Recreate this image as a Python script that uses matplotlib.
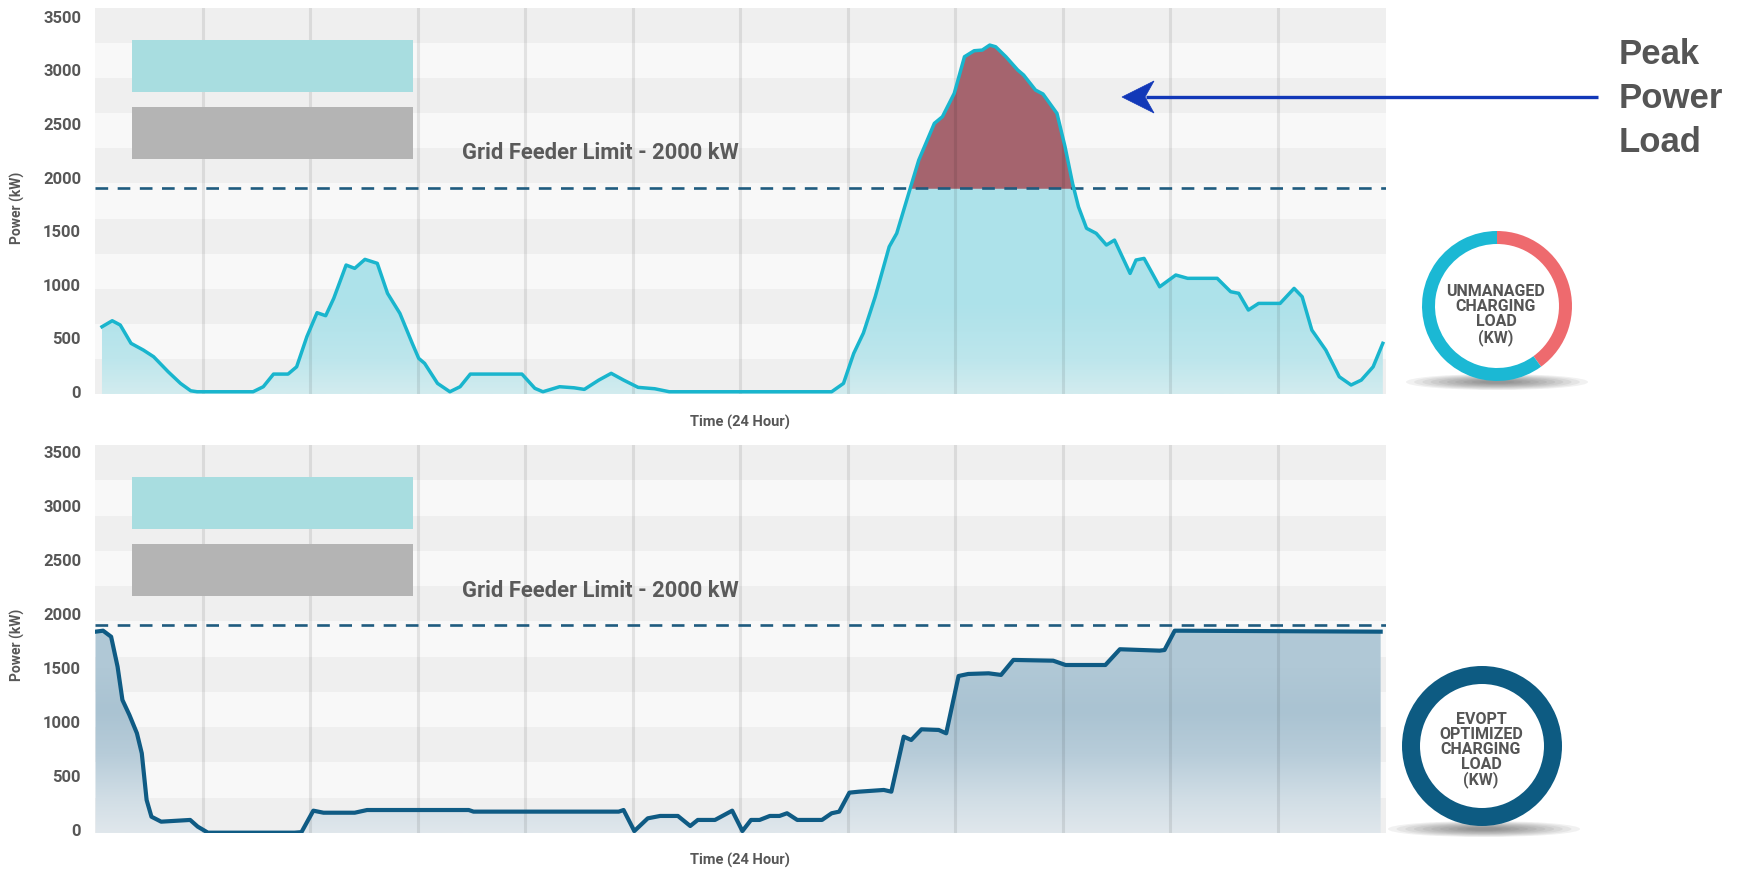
import numpy as np
import matplotlib
matplotlib.use('Agg')
import matplotlib.pyplot as plt
from matplotlib.patches import Rectangle, Wedge, Ellipse, Polygon
from matplotlib.colors import LinearSegmentedColormap

plt.rcParams['font.family'] = ['Roboto', 'DejaVu Sans']

# ---------------- data ----------------
top_hours = [0.13, 0.32, 0.47, 0.67, 0.9, 1.09, 1.36, 1.59, 1.78, 1.9,
             2.94, 3.13, 3.32, 3.59, 3.75, 3.94, 4.13, 4.29, 4.44, 4.67,
             4.83, 5.02, 5.25, 5.44, 5.67, 5.9, 6.02, 6.13, 6.37, 6.6,
             6.79, 6.98, 7.94, 8.18, 8.33, 8.64, 8.91, 9.1, 9.37, 9.6,
             9.83, 10.1, 10.41, 10.68, 13.70, 13.92, 14.11, 14.29, 14.51, 14.77,
             14.91, 15.17, 15.32, 15.61, 15.76, 15.98, 16.17, 16.35, 16.5, 16.64,
             16.75, 16.94, 17.16, 17.27, 17.49, 17.63, 17.89, 18.04, 18.18, 18.29,
             18.44, 18.62, 18.81, 18.96, 19.25, 19.36, 19.51, 19.8, 20.1, 20.32,
             20.87, 21.12, 21.27, 21.45, 21.64, 22.04, 22.3, 22.45, 22.63, 22.89,
             23.14, 23.36, 23.55, 23.77, 23.95]
top_kw = [607, 663, 623, 452, 389, 327, 187, 78, 9, 0,
          0, 47, 165, 165, 233, 514, 738, 710, 872, 1183,
          1152, 1236, 1199, 919, 732, 452, 312, 265, 78, 0,
          47, 165, 165, 32, 0, 47, 37, 22, 109, 172,
          109, 41, 28, 0, 0, 78, 358, 548, 887, 1354,
          1479, 1914, 2163, 2506, 2568, 2786, 3128, 3184, 3190, 3237,
          3221, 3128, 3004, 2957, 2817, 2780, 2599, 2288, 1946, 1727,
          1526, 1479, 1370, 1416, 1105, 1230, 1245, 980, 1090, 1059,
          1059, 934, 919, 763, 825, 825, 965, 887, 576, 389,
          140, 63, 109, 233, 452]

bot_hours = [0.01, 0.15, 0.3, 0.42, 0.51, 0.64, 0.78, 0.87, 0.96, 1.05,
             1.23, 1.77, 1.91, 2.1, 2.22, 3.71, 3.84, 4.06, 4.25, 4.83,
             5.06, 6.95, 7.04, 9.74, 9.83, 10.03, 10.28, 10.51, 10.84, 11.07,
             11.21, 11.53, 11.85, 12.04, 12.2, 12.36, 12.55, 12.73, 12.87, 13.06,
             13.52, 13.7, 13.84, 14.03, 14.21, 14.67, 14.81, 15.04, 15.18, 15.37,
             15.69, 15.83, 16.06, 16.24, 16.62, 16.85, 17.08, 17.82, 18.05, 18.79,
             19.06, 19.8, 19.89, 20.08, 20.17, 23.91]
bot_kw = [1838, 1847, 1791, 1513, 1205, 1066, 896, 711, 278, 123,
          77, 93, 31, -25, -25, -25, -20, 179, 160, 160,
          185, 185, 170, 170, 185, -10, 108, 130, 130, 37,
          93, 93, 179, -10, 93, 93, 130, 130, 155, 93,
          93, 155, 170, 346, 355, 371, 355, 865, 834, 933,
          927, 896, 1427, 1446, 1452, 1437, 1576, 1569, 1529, 1529,
          1675, 1662, 1668, 1847, 1847, 1838]

feeder_limit = 1900
limit_label = "Grid Feeder Limit - 2000 kW"
y_ticks = [0, 500, 1000, 1500, 2000, 2500, 3000, 3500]
grid_hours = [2, 4, 6, 8, 10, 12, 14, 16, 18, 20, 22]
peak_share = 0.40   # share of the unmanaged ring drawn in red
top_ring_label = "UNMANAGED\nCHARGING\nLOAD\n(KW)"
bot_ring_label = "EVOPT\nOPTIMIZED\nCHARGING\nLOAD\n(KW)"
peak_words = ["Peak", "Power", "Load"]

# ---------------- figure ----------------
W, H = 1752, 869
fig = plt.figure(figsize=(W / 100, H / 100), dpi=100)
fig.patch.set_facecolor('white')

TXT = '#575757'
BAND_DARK = '#efefef'
BAND_LIGHT = '#f8f8f8'


def px_axes(l, t, r, b):
    return fig.add_axes([l / W, 1 - b / H, (r - l) / W, (b - t) / H])


def style(ax, ylim):
    ax.set_xlim(0, 24)
    ax.set_ylim(*ylim)
    for s in ax.spines.values():
        s.set_visible(False)
    ax.set_facecolor('none')
    nb = 11
    for i in range(nb):
        ax.add_patch(Rectangle((0, 1 - (i + 1) / nb), 1, 1 / nb, transform=ax.transAxes,
                               facecolor=BAND_DARK if i % 2 == 0 else BAND_LIGHT,
                               lw=0, zorder=0))
    ax.set_xticks([])
    ax.set_yticks(y_ticks)
    ax.set_yticklabels([str(t) for t in y_ticks])
    ax.tick_params(axis='y', length=0, pad=10, labelsize=12, labelcolor=TXT)
    for lab in ax.get_yticklabels():
        lab.set_fontweight('bold')
    for h in grid_hours:
        ax.axvline(h, color='black', alpha=0.085, lw=2.2, zorder=3)
    ax.axhline(feeder_limit, color='#1f5b7f', lw=1.9, dashes=(4.8, 3.6), zorder=4)


def gradient_fill(ax, x, y, stops, z=1):
    y0, y1 = ax.get_ylim()
    verts = [(x[0], y0)] + list(zip(x, y)) + [(x[-1], y0)]
    poly = Polygon(verts, closed=True, facecolor='none', edgecolor='none')
    ax.add_patch(poly)
    cmap = LinearSegmentedColormap.from_list(
        'g', [((v - y0) / (y1 - y0), c) for v, c in stops])
    grad = np.linspace(0, 1, 512).reshape(-1, 1)
    im = ax.imshow(grad, cmap=cmap, extent=[0, 24, y0, y1], origin='lower',
                   aspect='auto', zorder=z, interpolation='bilinear')
    im.set_clip_path(poly)


ax1 = px_axes(95, 8, 1385.5, 394)
ax2 = px_axes(95, 445, 1385.5, 833)
style(ax1, (-21, 3583))
style(ax2, (-28, 3568))

tx = np.array(top_hours)
ty = np.array(top_kw)
y0, y1 = ax1.get_ylim()
gradient_fill(ax1, tx, ty, [(y0, '#d2ecef'), (300, '#bde6ec'), (800, '#aee2ea'), (y1, '#ade3eb')])
ax1.fill_between(tx, feeder_limit, ty, where=ty > feeder_limit, interpolate=True,
                 color='#a5646e', lw=0, zorder=2)
ax1.plot(tx, ty, color='#19b5cd', lw=2.5, zorder=5, solid_joinstyle='round')

bx = np.array(bot_hours)
by = np.array(bot_kw)
y0, y1 = ax2.get_ylim()
gradient_fill(ax2, bx, by, [(y0, '#e0e7ec'), (300, '#d0dde5'), (700, '#b7ccd9'),
                            (1100, '#aac3d2'), (1500, '#b0c8d6'), (y1, '#b8cfdb')])
ax2.plot(bx, by, color='#0f5b84', lw=3.0, zorder=5, solid_joinstyle='round')

# ---------------- overlay (pixel coordinates) ----------------
ov = fig.add_axes([0, 0, 1, 1], zorder=10)
ov.set_xlim(0, W)
ov.set_ylim(H, 0)
ov.axis('off')
ov.patch.set_alpha(0)

# axis labels
for yc in (208, 645):
    ov.text(17, yc, 'Power (kW)', rotation=90, ha='center', va='center',
            fontsize=10, fontweight='bold', color=TXT)
for yc in (422, 860):
    ov.text(740, yc, 'Time (24 Hour)', ha='center', va='center',
            fontsize=10.5, fontweight='bold', color=TXT)

# legend placeholder boxes
for top in (40, 477):
    ov.add_patch(Rectangle((132, top), 281, 52, facecolor='#a8dde0', lw=0))
    ov.add_patch(Rectangle((132, top + 67), 281, 52, facecolor='#b4b4b4', lw=0))

# feeder limit labels
for yc in (153, 591):
    ov.text(462, yc, limit_label, ha='left', va='center', fontsize=15.8,
            fontweight='bold', color='#5a5a5a')


def shadow(cx, cy, w, h):
    for k in range(10):
        f = 1 - k * 0.09
        ov.add_patch(Ellipse((cx, cy), w * f, h * f, facecolor='#3a3a3a',
                             alpha=0.07, lw=0))


# top donut
shadow(1497, 382, 182, 16)
cx, cy, r, wd = 1497, 306, 75, 13
red_end = -90 + 360 * peak_share
ov.add_patch(Wedge((cx, cy), r, -90, red_end, width=wd, facecolor='#ee6a6e', lw=0))
ov.add_patch(Wedge((cx, cy), r, red_end, 270, width=wd, facecolor='#1bb8d4', lw=0))
ov.text(cx - 1, cy + 9, top_ring_label, ha='center', va='center', fontsize=11.5,
        fontweight='bold', color='#555555', linespacing=1.0)

# bottom donut
shadow(1484, 829, 192, 16)
cx, cy, r, wd = 1482, 746, 80, 18
ov.add_patch(Wedge((cx, cy), r, 0, 360, width=wd, facecolor='#0d5b82', lw=0))
ov.text(cx - 1, cy + 4, bot_ring_label, ha='center', va='center', fontsize=11.5,
        fontweight='bold', color='#555555', linespacing=1.0)

# peak arrow
ARROW = '#1238b8'
ov.plot([1146, 1598], [97, 97], color=ARROW, lw=2.4, solid_capstyle='butt')
ov.add_patch(Polygon([(1122, 97), (1154, 81), (1145, 97), (1154, 113)],
                     closed=True, facecolor=ARROW, edgecolor=ARROW, lw=0.5))
for word, yc in zip(peak_words, (54, 98.5, 143)):
    ov.text(1619, yc, word, ha='left', va='center', fontsize=25, fontweight='bold',
            color='#555555', family=['Liberation Sans', 'DejaVu Sans'])

fig.savefig('out.png', dpi=100, facecolor='white')
